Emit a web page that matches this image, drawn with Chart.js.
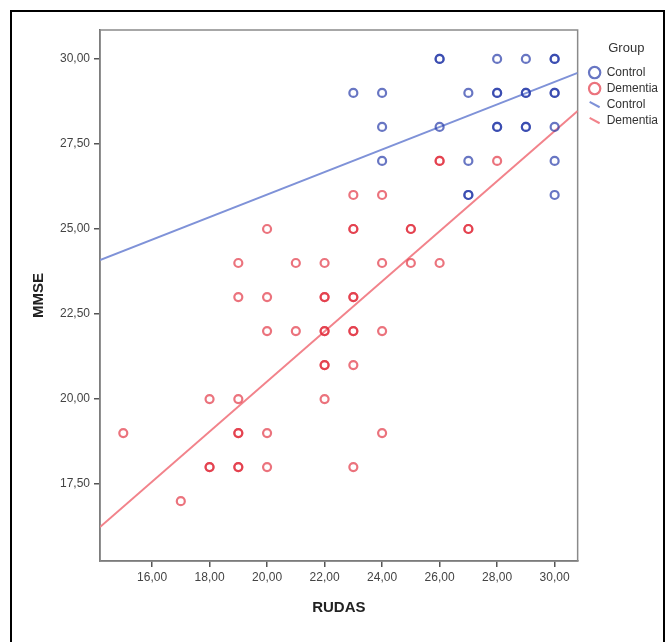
<!DOCTYPE html>
<html><head><meta charset="utf-8">
<script src="https://cdn.jsdelivr.net/npm/chart.js@4"></script>
<style>
html,body{margin:0;padding:0;background:#fff;}
#wrap{position:relative;width:665px;height:642px;overflow:hidden;}
#frame{position:absolute;left:10px;top:10px;width:651px;height:640px;border:2px solid #000;border-bottom:none;pointer-events:none;}
canvas{position:absolute;left:0;top:0;}
</style></head><body>
<div id="wrap"><canvas id="c" width="665" height="642"></canvas><div id="frame"></div></div>
<script>
// Control group (RUDAS, MMSE)
const controlRudas = [23,24,24,24,26,26,26,27,27,27,27,28,28,28,28,28,29,29,29,29,29,30,30,30,30,30,30,30];
const controlMmse  = [29,29,28,27,30,30,28,29,27,26,26,30,29,29,28,28,30,29,29,28,28,30,30,29,29,28,27,26];
// Dementia group (RUDAS, MMSE)
const dementiaRudas = [15,17,18,18,18,19,19,19,19,19,19,19,20,20,20,20,20,21,21,22,22,22,22,22,22,22,22,23,23,23,23,23,23,23,23,23,24,24,24,24,25,25,25,26,26,26,27,27,28];
const dementiaMmse  = [19,17,20,18,18,24,23,20,19,19,18,18,25,23,22,19,18,24,22,24,23,23,22,22,21,21,20,26,25,25,23,23,22,22,21,18,26,24,22,19,25,25,24,27,27,24,25,25,27];
// Linear fit lines (endpoints at plot edges)
const fitRudas = [14.19, 30.8];
const controlFit = [24.09, 29.59];
const dementiaFit = [16.24, 28.47];
// Ticks
const xTickValues = [16,18,20,22,24,26,28,30];
const yTickValues = [17.5,20,22.5,25,27.5,30];

const pts = (xs, ys) => xs.map((x, i) => ({x, y: ys[i]}));
const fmt = v => Number(v).toFixed(2).replace('.', ',');

Chart.defaults.font.family = "'Liberation Sans', Arial, sans-serif";
Chart.defaults.animation = false;

const frame = {
  id: 'plotFrame',
  beforeDatasetsDraw(chart) {
    const a = chart.chartArea, ctx = chart.ctx;
    ctx.save();
    ctx.strokeStyle = '#8a8a8a';
    ctx.lineWidth = 1.5;
    ctx.strokeRect(a.left, a.top, a.right - a.left, a.bottom - a.top);
    ctx.restore();
  }
};
const legendShift = {
  id: 'legendShift',
  afterUpdate(chart) {
    const l = chart.legend;
    if (l) { l.left += 7; l.right += 7; }
  }
};

new Chart(document.getElementById('c'), {
  type: 'scatter',
  data: {
    datasets: [
      { label: 'Control', data: pts(controlRudas, controlMmse), pointStyle: 'circle', pointRadius: 4, pointBorderWidth: 2.2,
        borderColor: 'rgba(40,60,170,0.7)', backgroundColor: 'rgba(0,0,0,0)', borderWidth: 2 },
      { label: 'Dementia', data: pts(dementiaRudas, dementiaMmse), pointStyle: 'circle', pointRadius: 4, pointBorderWidth: 2.2,
        borderColor: 'rgba(225,40,55,0.65)', backgroundColor: 'rgba(0,0,0,0)', borderWidth: 2 },
      { label: 'Control', data: pts(fitRudas, controlFit), showLine: true, pointRadius: 0, pointStyle: 'line', pointRotation: 28,
        borderColor: '#7f92d8', backgroundColor: '#7f92d8', borderWidth: 2 },
      { label: 'Dementia', data: pts(fitRudas, dementiaFit), showLine: true, pointRadius: 0, pointStyle: 'line', pointRotation: 28,
        borderColor: '#f2838b', backgroundColor: '#f2838b', borderWidth: 2 }
    ]
  },
  options: {
    responsive: false,
    layout: { padding: { top: 30, right: 4, left: 0, bottom: 0 } },
    plugins: {
      tooltip: { enabled: false },
      legend: {
        position: 'right', align: 'start',
        labels: { usePointStyle: true, boxHeight: 8, padding: 4, color: '#333', font: { size: 12 } },
        title: { display: true, text: 'Group', color: '#333', font: { size: 13 }, padding: { top: 12, bottom: 5 } }
      }
    },
    scales: {
      x: {
        type: 'linear', min: 14.19, max: 30.8,
        afterBuildTicks: s => { s.ticks = xTickValues.map(v => ({value: v})); },
        afterFit: s => { s.height = 81; },
        ticks: { callback: v => fmt(v), color: '#444', font: { size: 12 }, padding: 3, autoSkip: false, maxRotation: 0 },
        grid: { drawOnChartArea: false, drawTicks: true, tickLength: 6, color: '#555', lineWidth: 1.5 },
        border: { color: '#555', width: 1.5 },
        title: { display: true, text: 'RUDAS', color: '#222', font: { size: 15, weight: 'bold' }, padding: { top: 10, bottom: 25 } }
      },
      y: {
        type: 'linear', min: 15.24, max: 30.85,
        afterBuildTicks: s => { s.ticks = yTickValues.map(v => ({value: v})); },
        afterFit: s => { s.width = 100; },
        ticks: { callback: v => fmt(v), color: '#444', font: { size: 12 }, padding: 4, autoSkip: false },
        grid: { drawOnChartArea: false, drawTicks: true, tickLength: 6, color: '#555', lineWidth: 1.5 },
        border: { color: '#555', width: 1.5 },
        title: { display: true, text: 'MMSE', color: '#222', font: { size: 15, weight: 'bold' }, padding: { top: 30, bottom: 0 } }
      }
    }
  },
  plugins: [frame, legendShift]
});
</script>
</body></html>
